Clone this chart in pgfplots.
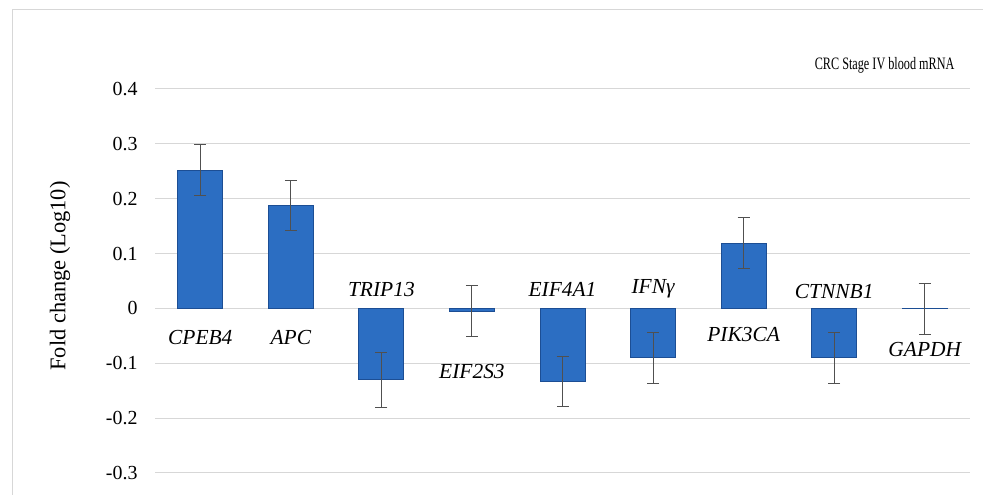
\documentclass[border=0pt]{standalone}
\usepackage{pgfplots}
\pgfplotsset{compat=1.18}
\usepackage{pgfplotstable}
\usepackage{graphicx}
\usepackage{fontspec}
\setmainfont{Liberation Serif}
\definecolor{barmid}{RGB}{44,110,194}
\definecolor{baredge}{RGB}{28,78,148}
\definecolor{gridc}{RGB}{215,215,215}
\definecolor{errc}{RGB}{80,80,80}
\pgfplotstableread{
x y err
0 0.252 0.047
1 0.188 0.046
2 -0.130 0.050
3 -0.005 0.046
4 -0.133 0.046
5 -0.090 0.047
6 0.119 0.047
7 -0.090 0.047
8 -0.001 0.046
}\datatab
\begin{document}
\begin{tikzpicture}[x=1bp,y=1bp]
\useasboundingbox (0,0) rectangle (983,495);
\draw[gridc,line width=1bp] (12,0) -- (12,485) -- (983,485);
\begin{axis}[
  at={(155bp,22bp)}, anchor=south west,
  scale only axis, width=815bp, height=384bp,
  xmin=-0.5, xmax=8.5, ymin=-0.3, ymax=0.4,
  ytick={-0.3,-0.2,...,0.4},
  yticklabel style={/pgf/number format/fixed,/pgf/number format/precision=1, font=\fontsize{20}{22}\selectfont, xshift=-14bp},
  /pgf/number format/assume math mode=true,
  xtick=\empty,
  major tick length=0pt,
  axis line style={draw=none},
  ymajorgrids, grid style={gridc, line width=1bp},
  ybar, bar width=45bp,
  clip=false,
]
\addplot[draw=baredge, line width=1bp, fill=barmid,
  error bars/.cd, y dir=both, y explicit,
  error bar style={errc, line width=1bp},
  error mark options={rotate=90, mark size=6bp, errc, line width=1bp}]
  table[x=x, y=y, y error=err] {\datatab};
\tikzset{lab/.style={font=\fontsize{21.5}{24}\selectfont\itshape}}
\node[lab] at (axis cs:0,-0.053) {CPEB4};
\node[lab] at (axis cs:1,-0.053) {APC};
\node[lab] at (axis cs:2,0.035) {TRIP13};
\node[lab] at (axis cs:3,-0.115) {EIF2S3};
\node[lab] at (axis cs:4,0.035) {EIF4A1};
\node[lab] at (axis cs:5,0.035) {IFNγ};
\node[lab] at (axis cs:6,-0.047) {PIK3CA};
\node[lab] at (axis cs:7,0.031) {CTNNB1};
\node[lab] at (axis cs:8,-0.075) {GAPDH};
\end{axis}
\node[rotate=90, font=\fontsize{22.5}{24}\selectfont] at (60,219) {Fold change (Log10)};
\node[anchor=east, font=\fontsize{17.5}{19}\selectfont] at (958,430) {\scalebox{0.7}[1]{CRC Stage IV blood mRNA}};
\end{tikzpicture}
\end{document}
